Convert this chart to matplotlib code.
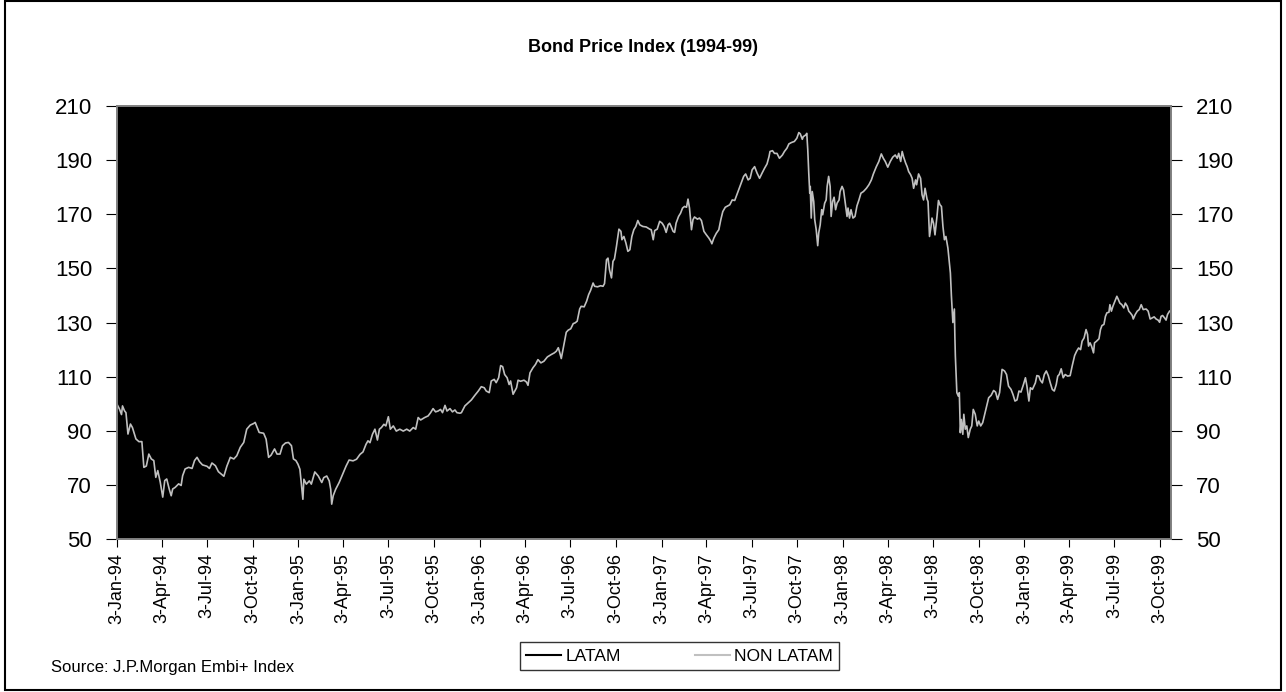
import datetime as dt
import matplotlib
matplotlib.use('Agg')
import matplotlib.pyplot as plt
from matplotlib.lines import Line2D
from matplotlib.patches import Rectangle

plt.rcParams['font.family'] = ['Liberation Sans', 'DejaVu Sans']

# NON LATAM index: days after 3-Jan-94 and index level
days = [0, 5, 9, 11, 15, 18, 22, 27, 31, 38, 44, 50, 54, 59, 64, 69, 74, 78, 82, 87,
        92, 96, 100, 105, 109, 112, 117, 124, 129, 132, 137, 144, 151, 156, 161, 166,
        172, 181, 186, 191, 198, 204, 215, 221, 228, 235, 241, 248, 255, 261, 268, 275,
        278, 282, 286, 295, 300, 305, 310, 317, 322, 328, 333, 339, 345, 351, 355, 360,
        364,
        368, 372, 374, 376, 381, 387, 391, 398, 405, 412, 416, 422, 427, 430, 432, 435,
        440, 447, 454, 461, 467, 475, 482, 489, 495, 501, 505, 509, 514, 519, 524, 528,
        532, 537, 541, 546, 550, 556, 562, 569, 576, 583, 589, 596, 601, 606, 611, 619,
        626, 631, 636, 641, 646, 651, 655, 660, 664, 670, 675, 680, 684, 690, 693, 700,
        707, 713, 720, 727, 733, 739, 743, 749, 753, 759, 763, 768, 772, 776, 780, 785,
        789, 792, 797,
        804, 807, 812, 819, 824, 827, 831, 837, 842, 847, 853, 859, 866, 874, 880, 884,
        888, 891, 894, 900, 904, 908, 913, 918, 922, 926, 931, 934, 940, 945, 949, 953,
        958, 961, 967, 973, 978, 981, 985, 988, 991, 995, 998, 1001, 1005, 1010, 1014,
        1016, 1020, 1024, 1028, 1032, 1036, 1040, 1044, 1048, 1052, 1058, 1065, 1072,
        1075, 1079, 1082, 1087, 1092, 1097, 1101, 1105, 1109, 1112, 1115, 1119, 1122,
        1125, 1130, 1134, 1138, 1142, 1146, 1149, 1152, 1156, 1159, 1162, 1168, 1172,
        1176, 1181, 1186, 1191, 1195, 1197, 1201, 1206, 1211, 1215, 1219, 1224, 1229,
        1233, 1238, 1243, 1246, 1252, 1256, 1261, 1265, 1270, 1274, 1278, 1283, 1288,
        1293, 1298, 1303, 1308, 1312, 1314, 1319, 1323, 1328, 1333, 1339, 1343, 1348,
        1352, 1357, 1363, 1368, 1372, 1375, 1379, 1381, 1386, 1388, 1390, 1392, 1394,
        1395, 1397, 1399, 1402, 1404, 1407, 1410, 1412, 1415, 1418, 1420, 1424, 1427,
        1429, 1432, 1435, 1437, 1440, 1443, 1446, 1449, 1453, 1455, 1459, 1462, 1466,
        1469, 1471, 1474, 1477, 1481, 1485, 1489, 1493, 1497, 1502, 1508, 1513, 1518,
        1522, 1528, 1533, 1538, 1542, 1546, 1551, 1556, 1561, 1566, 1570, 1573, 1577,
        1580, 1583, 1587, 1590, 1593, 1597, 1600, 1603, 1607, 1609, 1613, 1617, 1620,
        1623, 1626, 1630, 1632, 1635, 1638, 1640, 1643, 1646, 1650, 1653, 1656, 1659,
        1662, 1665, 1668, 1672,
        1677, 1679, 1682, 1685, 1686, 1687, 1690, 1693, 1695, 1697, 1699, 1702, 1704,
        1707, 1710, 1713, 1717, 1720, 1723, 1727, 1731, 1734, 1738, 1742, 1746, 1750,
        1754, 1759, 1764, 1768, 1772, 1776, 1778, 1781, 1786, 1790, 1794, 1799, 1803,
        1807, 1811, 1815, 1819, 1824, 1828, 1831, 1835, 1838, 1842, 1845, 1848, 1851,
        1855, 1858, 1862, 1866, 1870, 1874, 1878, 1882, 1886, 1890, 1893, 1896, 1900,
        1904, 1908, 1913, 1918, 1922, 1927, 1931, 1935, 1939, 1942, 1946, 1950, 1953,
        1955, 1958, 1961, 1965, 1967, 1971, 1976, 1979, 1982, 1986, 1989, 1992, 1996,
        1998, 2001, 2004, 2008, 2012, 2015, 2018, 2022, 2026, 2029, 2033, 2036, 2039,
        2043, 2045, 2049, 2053, 2057, 2061, 2065, 2071, 2075, 2079, 2083, 2087, 2091,
        2095, 2098, 2101, 2104, 2108, 2111, 2114, 2118]
non_latam = [99.8, 98.0, 96.0, 99.2, 97.4, 96.7, 88.8, 92.5, 91.2, 87.0, 86.0, 86.0,
             76.5, 77.0, 81.4, 79.6, 79.0, 72.8, 75.3, 71.0, 65.5, 71.6, 72.2, 68.5,
             66.0, 68.5, 69.1, 70.4, 69.8, 73.4, 75.9, 76.5, 76.1, 79.0, 80.2, 78.6,
             77.4, 76.9, 76.1, 78.1, 77.1, 74.9, 73.2, 76.9, 80.2, 79.6, 80.8, 83.9,
             85.7, 90.6, 92.1, 92.7, 93.1, 91.2, 89.4, 89.1, 86.9, 80.2, 81.0, 83.3,
             81.4, 81.4, 84.5, 85.5, 85.7, 84.5, 79.6, 79.0, 77.7,
             75.8, 68.5, 64.7, 72.1, 70.3, 71.5, 70.3, 74.8, 73.3, 70.9, 72.7, 73.3,
             71.5, 68.4, 62.9, 66.0, 68.4, 70.9, 74.0, 77.0, 79.2, 78.9, 79.5, 81.3,
             82.2, 85.0, 86.3, 85.6, 88.7, 90.6, 86.6, 90.6, 91.2, 92.4, 91.8, 95.2,
             90.6, 91.8, 89.9, 90.6, 89.9, 90.6, 89.9, 91.2, 90.6, 94.9, 94.0, 94.9,
             95.5, 96.7, 98.2, 97.0, 97.3, 97.9, 96.7, 99.4, 97.3, 98.2, 97.0, 97.7,
             96.7, 96.5, 96.7, 99.2, 100.4, 101.4, 103.1, 104.7, 106.3, 105.9, 104.7,
             104.1, 108.4, 109.0, 107.8, 109.6, 114.1, 113.7, 110.8, 109.6, 107.1,
             108.4, 103.5,
             105.9, 108.7, 108.3, 108.7, 108.0, 106.8, 111.4, 113.3, 114.5, 116.3,
             115.1, 115.7, 117.3, 118.2, 118.8, 119.4, 120.7, 118.8, 116.7, 122.5,
             126.4, 127.2, 127.7, 129.6, 129.9, 130.5, 135.0, 136.0, 135.8, 137.9,
             140.3, 141.9, 144.6, 143.4, 143.2, 143.6, 143.4, 144.4, 153.2, 153.8,
             149.5, 146.5, 152.6, 153.5, 158.1, 164.5, 163.7, 160.6, 161.8, 159.4,
             156.3, 156.9, 161.8, 164.3, 165.5, 167.7, 166.1, 165.5, 165.3, 164.5,
             164.3, 160.6, 164.0, 164.5, 167.4, 166.7, 165.5, 163.3, 166.1, 166.7,
             165.5, 163.7, 163.3, 166.7, 169.2, 170.4, 172.3, 172.9, 172.6, 175.6,
             172.3, 164.3, 168.0, 169.0, 168.2, 168.6, 167.7, 163.7, 162.4, 161.2,
             160.0, 159.1, 161.2, 163.0, 164.3, 168.0, 171.0, 172.6, 173.1,
             173.5, 175.3, 175.1, 176.6, 179.6, 181.5, 184.0, 184.9, 182.7, 183.3,
             186.4, 187.6, 185.2, 183.3, 185.2, 187.0, 188.6, 191.3, 193.2, 193.5,
             192.5, 192.5, 190.7, 191.9, 193.2, 194.4, 196.0, 196.5, 196.9, 198.1,
             200.2, 199.7, 197.7, 198.7, 199.3, 199.9, 193.8, 185.2, 177.8, 180.3,
             168.6, 178.4, 174.7, 168.0, 164.3, 158.4, 163.1, 166.1, 171.7, 169.8,
             174.1, 175.3, 180.3, 184.0, 180.3, 169.2, 174.7, 176.3, 171.7, 174.1,
             175.3, 178.4, 180.3, 179.0, 173.5, 169.2, 172.3, 168.6, 171.7, 168.6,
             169.2, 173.1, 175.3, 177.8, 178.4, 179.6, 180.9, 182.7, 184.9, 187.6,
             189.5, 192.3, 190.7, 189.5, 187.4, 189.5, 191.1, 191.9, 190.7, 192.5,
             189.5, 193.2, 191.1, 188.9, 187.6, 185.8, 184.6, 183.3, 179.6, 182.7,
             180.9, 184.9, 183.3, 177.2, 175.3, 179.6, 175.6, 174.7, 161.8, 165.5,
             168.6, 166.7, 162.4, 169.2, 175.1, 173.5, 172.9, 165.5, 160.6, 161.8,
             157.5,
             148.3, 140.0, 130.0, 135.0, 125.0, 117.6, 104.1, 102.8, 104.1, 89.3,
             94.2, 88.7, 96.1, 90.6, 91.8, 87.5, 90.6, 91.8, 97.9, 96.1, 91.8, 93.6,
             91.8, 93.0, 96.1, 99.1, 102.2, 103.1, 104.9, 104.3, 101.6, 104.1, 107.7,
             112.7, 112.1, 110.8, 106.5, 105.3, 103.4, 101.0, 101.4, 104.7, 104.3,
             107.1, 109.6, 106.5, 101.0, 105.9, 105.3, 106.5, 107.7, 110.4, 110.2,
             108.7, 107.7, 110.8, 112.1, 110.4, 107.7, 105.3, 104.7, 107.1, 110.2,
             110.8, 112.9, 109.6, 110.8, 110.2, 110.4, 113.9, 117.8, 119.4, 120.6,
             120.0, 123.1, 124.3, 127.4, 125.6, 121.3, 122.5, 121.3, 118.8, 122.5,
             123.1, 124.0, 127.4, 128.9, 129.3, 132.3, 133.6, 133.8, 136.6, 134.2,
             136.0, 137.9, 139.7, 138.5, 137.2, 136.6, 135.4, 137.2, 136.0, 134.2,
             133.6, 132.6, 131.3, 133.0, 134.2, 134.8, 136.6, 134.8, 135.0, 134.2,
             131.3, 131.7, 132.1, 131.3, 130.9, 130.1, 132.3, 132.6, 131.7, 130.9,
             133.0, 134.2]

start = dt.date(1994, 1, 3)
end = dt.date(1999, 10, 25)
tick_dates = [dt.date(y, m, 3) for y in range(1994, 2000) for m in (1, 4, 7, 10)]
tick_labels = ['%d-%s' % (d.day, d.strftime('%b-%y')) for d in tick_dates]
y_ticks = list(range(50, 211, 20))

dates = [start + dt.timedelta(days=d) for d in days]

fig = plt.figure(figsize=(12.86, 6.92), dpi=100)
ax = fig.add_axes([0.0910, 0.2210, 0.8196, 0.6258])
ax.set_facecolor('black')
ax.plot(dates, non_latam, color='#c0c0c0', lw=1.2)

ax.set_xlim(start, end)
ax.set_ylim(50, 210)
ax.set_xticks(tick_dates)
ax.set_xticklabels(tick_labels, rotation=90, fontsize=13)
ax.set_yticks(y_ticks)
ax.tick_params(axis='y', labelsize=16, length=8, pad=10)
ax.tick_params(axis='x', length=6, pad=4)
for s in ax.spines.values():
    s.set_color('#808080')
    s.set_linewidth(1.2)

ax2 = ax.twinx()
ax2.set_ylim(50, 210)
ax2.set_yticks(y_ticks)
ax2.tick_params(axis='y', labelsize=16, length=8, pad=10)
for s in ax2.spines.values():
    s.set_color('#808080')
    s.set_linewidth(1.2)

fig.text(0.5, 0.932, 'Bond Price Index (1994-99)', ha='center', va='center',
         fontsize=13, fontweight='bold')
fig.text(0.040, 0.036, 'Source: J.P.Morgan Embi+ Index', ha='left', va='center',
         fontsize=12)

handles = [Line2D([], [], color='black', lw=1.5),
           Line2D([], [], color='#c0c0c0', lw=1.5)]
leg = fig.legend(handles, ['LATAM', 'NON LATAM'], loc='center',
                 bbox_to_anchor=(0.5284, 0.052), ncol=2, fontsize=12.5,
                 frameon=True, fancybox=False, handlelength=2.0,
                 handletextpad=0.25, columnspacing=4.3, borderpad=0.35,
                 borderaxespad=0)
leg.get_frame().set_edgecolor('black')
leg.get_frame().set_linewidth(1.0)

fig.patches.append(Rectangle((0.004, 0.003), 0.992, 0.995, transform=fig.transFigure,
                             fill=False, edgecolor='black', lw=1.5))

fig.savefig('out.png', dpi=100)
